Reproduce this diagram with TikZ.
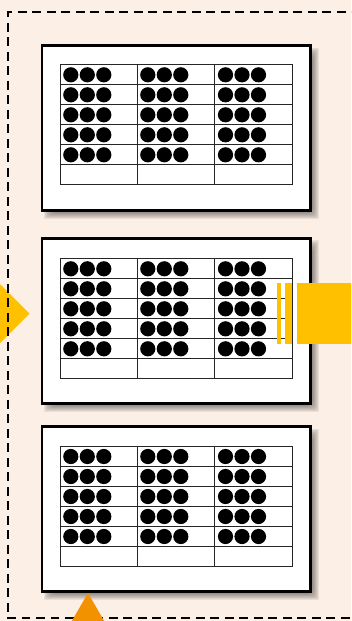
\documentclass[tikz,border=0pt]{standalone}
\definecolor{bgpeach}{HTML}{FCEFE6}
\definecolor{gold}{HTML}{FFC000}
\definecolor{deeporange}{HTML}{F39200}
\begin{document}
\begin{tikzpicture}[x=1pt,y=-1pt,
  panelbox/.style={draw=black, line width=2.6pt, fill=white, anchor=north west,
    minimum width=268.5pt, minimum height=165pt, inner sep=0pt, outer sep=0pt},
  gridline/.style={draw=black!85, line width=1pt},
  dotmark/.style={fill=black},
  frameline/.style={draw=black, line width=2.3pt, dash pattern=on 8.7pt off 5.8pt},
  goldfill/.style={fill=gold},
  shadowlayer/.style={fill=black, opacity=0.065}]
\useasboundingbox (0,0) rectangle (351,621);
\clip (0,0) rectangle (351,621);
\fill[bgpeach] (0,0) rectangle (351,621);
% left arrow head
\fill[goldfill] (-1,283) -- (29.5,313.5) -- (-1,344) -- cycle;
% dashed frame
\draw[frameline] (360,12) -- (8.3,12) -- (8.3,618.3) -- (360,618.3);
% panels
\foreach \i/\t/\tt in {1/45.7/64.3, 2/238.3/258.3, 3/426.7/446} {
  \foreach \s in {0,...,7} {
    \fill[shadowlayer, rounded corners=\s pt]
      ({44+\s},{\t+2+\s}) rectangle ({319-\s},{\t+173.5-\s});
  }
  \node[panelbox] (panel\i) at (42,\t) {};
  \foreach \r in {0,...,6}
    \draw[gridline] (60,{\tt+20*\r}) -- (292.7,{\tt+20*\r});
  \foreach \c in {60,137,214.7,292.7}
    \draw[gridline] (\c,\tt) -- (\c,{\tt+120});
  \foreach \r in {0,...,4}
    \foreach \c in {60,137,214.7}
      \foreach \k in {0,1,2}
        \fill[dotmark] ({\c+10.8+16.5*\k},{\tt+10.5+20*\r}) circle (7.6);
}
% right gold element
\fill[goldfill] (277.3,283.3) rectangle (280.7,343.7);
\fill[goldfill] (285,283.3) rectangle (292,343.7);
\fill[goldfill] (296.7,283.3) rectangle (360,343.7);
% bottom arrow head
\fill[deeporange] (88,593) -- (115.1,640) -- (60.9,640) -- cycle;
\end{tikzpicture}
\end{document}
